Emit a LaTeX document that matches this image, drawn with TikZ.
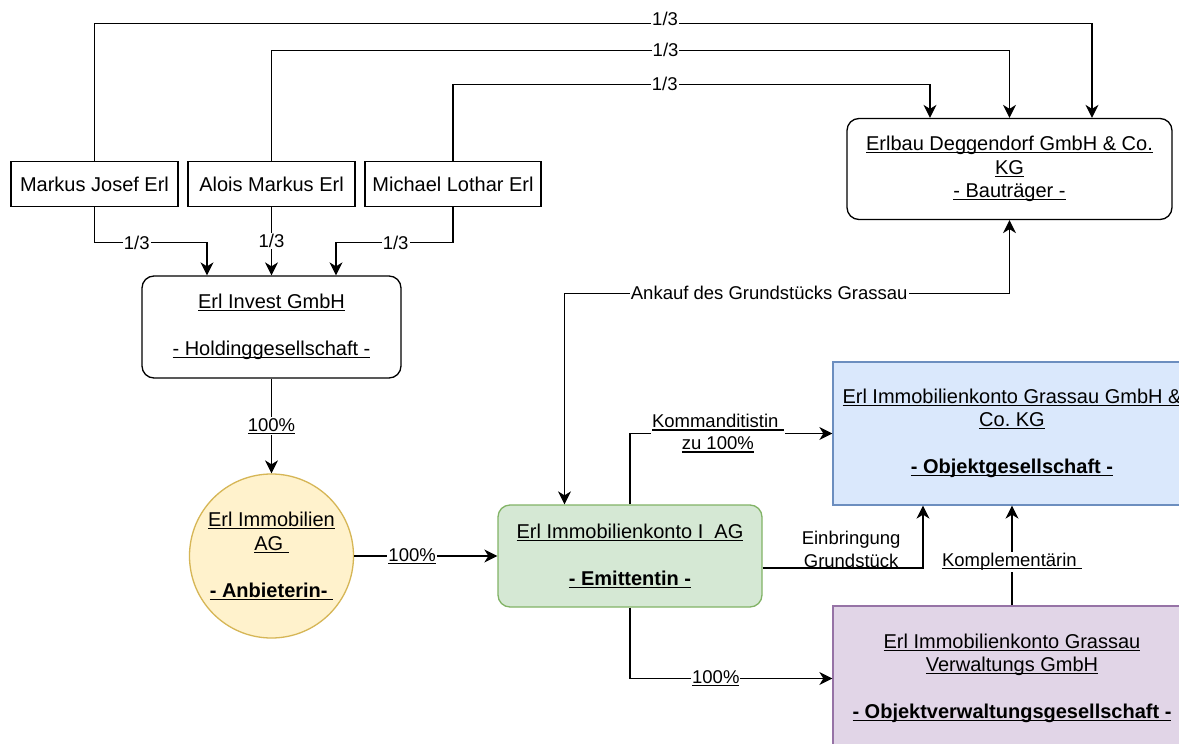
\documentclass[tikz,border=0pt]{standalone}
\usepackage{fontspec}
\setmainfont{Liberation Sans}
\usetikzlibrary{arrows.meta}
\definecolor{yfill}{HTML}{FFF2CC}\definecolor{ydraw}{HTML}{D6B656}
\definecolor{gfill}{HTML}{D5E8D4}\definecolor{gdraw}{HTML}{82B366}
\definecolor{bfill}{HTML}{DAE8FC}\definecolor{bdraw}{HTML}{6C8EBF}
\definecolor{pfill}{HTML}{E1D5E7}\definecolor{pdraw}{HTML}{9673A6}
\newcommand\ulx[1]{\setbox0\hbox{#1}\leavevmode\rlap{\rule[-2.6pt]{\wd0}{1.1pt}}\box0}
\tikzset{
  box/.style={draw, line width=1.3pt, align=center, inner sep=0pt,
    font=\fontsize{20}{23.5}\selectfont},
  person/.style={box, minimum height=45pt},
  rbox/.style={box, rounded corners=12pt},
  arr/.style={line width=1.3pt, -{Stealth[length=13pt,width=13pt,inset=4pt]}},
  arrtwo/.style={line width=1.3pt, {Stealth[length=13pt,width=13pt,inset=4pt]}-{Stealth[length=13pt,width=13pt,inset=4pt]}},
  lbl/.style={fill=white, inner sep=1pt, align=center, font=\fontsize{18.5}{22}\selectfont},
  lblplain/.style={inner sep=0pt, align=center, font=\fontsize{18.5}{22.5}\selectfont},
}
\begin{document}
\begin{tikzpicture}[x=1pt, y=-1pt]
\useasboundingbox (0,0) rectangle (1179,744);
\clip (0,0) rectangle (1179,744);
\fill[white] (0,0) rectangle (1179,744);

% nodes
\node[person, minimum width=167pt] (markus) at (94.5,184) {Markus Josef Erl};
\node[person, minimum width=167pt] (alois) at (271.5,184) {Alois Markus Erl};
\node[person, minimum width=176pt] (michael) at (453,184) {Michael Lothar Erl};
\node[rbox, minimum width=325pt, minimum height=101pt] (erlbau) at (1009.5,169)
  {\ulx{Erlbau Deggendorf GmbH \& Co.}\\\ulx{KG}\\\ulx{- Bauträger -}};
\node[rbox, minimum width=259pt, minimum height=102pt] (invest) at (271.5,327)
  {\ulx{Erl Invest GmbH}\\[23.5pt]\ulx{- Holdinggesellschaft -}};
\node[box, circle, fill=yfill, draw=ydraw, minimum size=164pt] (anb) at (271.5,556)
  {\ulx{Erl Immobilien}\\\ulx{AG\ }\\[23.5pt]\ulx{\bfseries - Anbieterin-\ }};
\node[rbox, fill=gfill, draw=gdraw, minimum width=264pt, minimum height=102pt] (emit) at (630,556)
  {\ulx{Erl Immobilienkonto I\ \ AG}\\[23.5pt]\ulx{\bfseries - Emittentin -}};
\node[box, fill=bfill, draw=bdraw, minimum width=358pt, minimum height=143pt] (objekt) at (1012,433.5)
  {\ulx{Erl Immobilienkonto Grassau GmbH \&}\\\ulx{Co.\ KG}\\[23.5pt]\ulx{\bfseries - Objektgesellschaft -}};
\node[box, fill=pfill, draw=pdraw, minimum width=358pt, minimum height=145pt] (verw) at (1012,678.5)
  {\ulx{Erl Immobilienkonto Grassau}\\\ulx{Verwaltungs GmbH}\\[23.5pt]\ulx{\bfseries - Objektverwaltungsgesellschaft -}};

% top connectors to Erlbau
\draw[arr] (markus.north) -- ++(0,-137.5) -- node[lbl, pos=.572, yshift=4pt]{1/3} ++(997.5,0) -- ([xshift=82.5pt]erlbau.north);
\draw[arr] (alois.north) -- ++(0,-110.5) -- node[lbl, pos=.534]{1/3} ++(738,0) -- (erlbau.north);
\draw[arr] (michael.north) -- ++(0,-76.5) -- node[lbl, pos=.444]{1/3} ++(477,0) -- ([xshift=-79.5pt]erlbau.north);

% persons to Erl Invest
\draw[arr] (markus.south) -- ++(0,35.5) -- node[lbl, pos=.375]{1/3} ++(112.5,0) -- ([xshift=-64.5pt]invest.north);
\draw[arr] (alois.south) -- node[lbl, pos=.5]{1/3} (invest.north);
\draw[arr] (michael.south) -- ++(0,35.5) -- node[lbl, pos=.49]{1/3} ++(-117,0) -- ([xshift=64.5pt]invest.north);

% holdings
\draw[arr] (invest.south) -- node[lbl, pos=.5]{\ulx{100\%}} (anb.north);
\draw[arr] (anb.east) -- node[lbl, pos=.405]{\ulx{100\%}} (emit.west);

% Ankauf
\draw[arrtwo] ([xshift=-65.5pt]emit.north) -- ++(0,-211) -- node[lbl, pos=.46]{Ankauf des Grundstücks Grassau} ++(445,0) -- (erlbau.south);

% Kommanditistin
\draw[arr] (emit.north) |- node[lbl, pos=.717]{\ulx{Kommanditistin\ }\\\ulx{zu 100\%}} (objekt.west);

% Einbringung
\draw[arr] ([yshift=-12pt]emit.east) -| node[lblplain, pos=.276, yshift=18.5pt]{Einbringung\\Grundstück} ([xshift=-89pt]objekt.south);

% Komplementaerin
\draw[arr] (verw.north) -- node[lbl, pos=.436]{\ulx{Komplementärin\ }} (objekt.south);

% 100% to Verwaltung
\draw[arr] (emit.south) |- node[lbl, pos=.712]{\ulx{100\%}} (verw.west);
\end{tikzpicture}
\end{document}
